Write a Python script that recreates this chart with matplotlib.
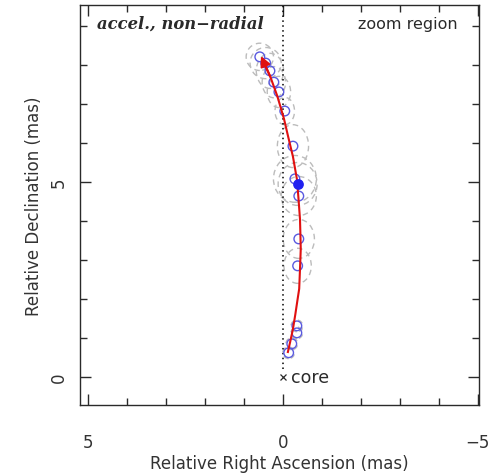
import matplotlib
matplotlib.use("Agg")
import matplotlib.pyplot as plt
from matplotlib.patches import Ellipse
from matplotlib.ticker import MultipleLocator

# component positions (mas)
ra = [0.59, 0.44, 0.33, 0.23, 0.10, -0.05, -0.26, -0.31, -0.38, -0.41,
      -0.41, -0.38, -0.36, -0.36, -0.23, -0.15]
dec = [8.21, 8.05, 7.85, 7.56, 7.31, 6.82, 5.92, 5.08, 4.95, 4.64,
       3.54, 2.85, 1.31, 1.13, 0.85, 0.62]
# component sizes (mas)
size_w = [0.7, 0.8, 0.7, 0.6, 0.6, 0.5, 0.8, 1.1, 1.0, 0.9, 0.8, 0.7,
          0.3, 0.3, 0.3, 0.3]
size_h = [0.7, 0.8, 0.9, 0.8, 0.8, 0.7, 1.1, 1.2, 1.1, 1.0, 1.0, 0.9,
          0.3, 0.3, 0.3, 0.3]
filled_idx = 8

# fitted track (accelerated, non-radial)
fit_ra = [-0.13, -0.20, -0.26, -0.32, -0.38, -0.42, -0.44, -0.46, -0.45,
          -0.44, -0.40, -0.36, -0.26, -0.14, -0.03, 0.14, 0.32, 0.48, 0.56]
fit_dec = [0.64, 0.95, 1.23, 1.60, 2.00, 2.26, 2.75, 3.28, 3.70,
           4.05, 4.60, 5.08, 5.65, 6.15, 6.62, 7.20, 7.70, 8.05, 8.23]

xlim = (5.2, -5.03)
ylim = (-0.72, 9.54)

ink = "#2a2a2a"
txt = "#333333"

fig = plt.figure(figsize=(4.9, 4.77), dpi=100)
ax = fig.add_axes([80 / 490, (477 - 406) / 477, 399 / 490, 400 / 477])

for x, y, w, h in zip(ra, dec, size_w, size_h):
    ax.add_patch(Ellipse((x, y), w, h, fill=False, ec="#bcbcbc", lw=1.0,
                         ls=(0, (4, 3)), zorder=1))

ax.axvline(0, ymin=(0.2 - ylim[0]) / (ylim[1] - ylim[0]), color="black",
           ls=(0, (1, 2.2)), lw=1.1, zorder=2)

open_ra = [v for i, v in enumerate(ra) if i != filled_idx]
open_dec = [v for i, v in enumerate(dec) if i != filled_idx]
ax.scatter(open_ra, open_dec, s=48, facecolors="none", edgecolors="#5a5ae0",
           linewidths=1.0, zorder=3)

ax.plot(fit_ra[:-1], fit_dec[:-1], color="#e01010", lw=1.5, zorder=4)
ax.annotate("", xy=(fit_ra[-1], fit_dec[-1]), xytext=(fit_ra[-3], fit_dec[-3]),
            arrowprops=dict(arrowstyle="-|>", color="#e01010", lw=1.5,
                            mutation_scale=15, shrinkA=0, shrinkB=0), zorder=4)

ax.scatter([ra[filled_idx]], [dec[filled_idx]], s=45, color="#2020f0", zorder=6)

ax.plot([0], [0], marker="x", ms=5, mew=0.9, color=ink, ls="none")
ax.text(-0.2, 0.0, "core", fontsize=12.5, color=ink, va="center", ha="left")

ax.text(0.043, 0.955, "accel., non\u2212radial", transform=ax.transAxes,
        family="DejaVu Serif", style="italic", weight="bold", fontsize=11.8,
        color=ink, va="center", ha="left")
ax.text(0.947, 0.955, "zoom region", transform=ax.transAxes, fontsize=11.5,
        color=ink, va="center", ha="right")

ax.set_xlim(*xlim)
ax.set_ylim(*ylim)
ax.xaxis.set_minor_locator(MultipleLocator(1))
ax.yaxis.set_minor_locator(MultipleLocator(1))
ax.set_xticks([5, 0, -5])
ax.set_xticklabels(["5", "0", "\u22125"])
ax.set_yticks([0, 5])
ax.set_yticklabels(["0", "5"], rotation=90, va="center")

ax.tick_params(which="both", direction="in", top=True, right=True, colors=ink,
               labelsize=12, labelcolor=txt)
ax.tick_params(which="major", length=8, width=1.0)
ax.tick_params(which="minor", length=5, width=1.0)
ax.tick_params(axis="x", pad=20)
ax.tick_params(axis="y", pad=8.5)
for s in ax.spines.values():
    s.set_color(ink)
    s.set_linewidth(1.0)

ax.set_xlabel("Relative Right Ascension (mas)", fontsize=12, color=txt)
ax.set_ylabel("Relative Declination (mas)", fontsize=12, color=txt)
ax.xaxis.set_label_coords(0.5, -0.1225)
ax.yaxis.set_label_coords(-0.093, 0.5)

fig.savefig("out.png", dpi=100)
